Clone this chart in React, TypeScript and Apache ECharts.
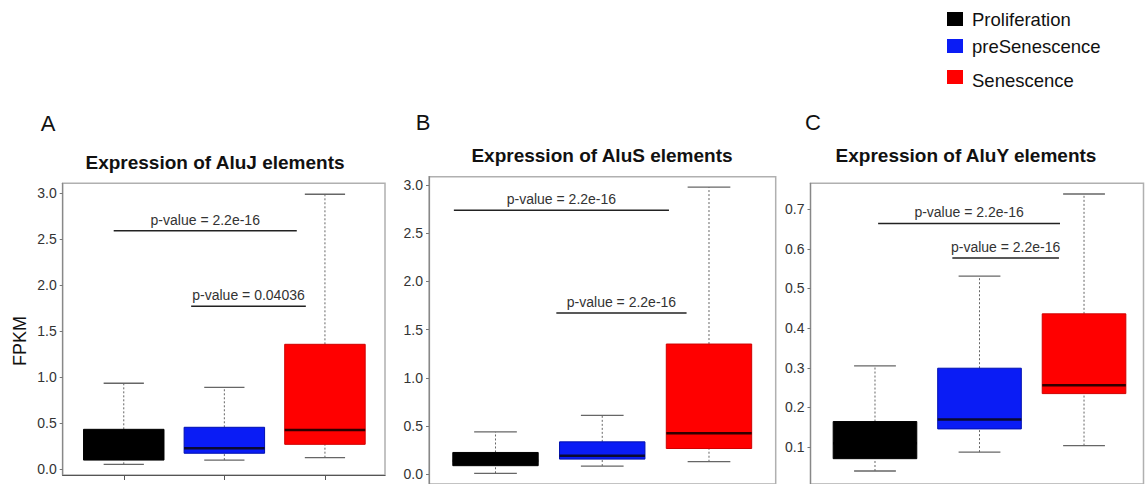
import React, { useEffect, useRef } from "react";
import * as echarts from "echarts";

// ---- data ----
const groups = ["Proliferation", "preSenescence", "Senescence"];

// [low whisker, Q1, median, Q3, high whisker] per group
const aluJStats = [
  [0.054, 0.1, 0.2, 0.434, 0.934],
  [0.1, 0.174, 0.228, 0.456, 0.89],
  [0.126, 0.271, 0.427, 1.357, 2.986],
];
const aluSStats = [
  [0.01, 0.089, 0.14, 0.226, 0.439],
  [0.085, 0.157, 0.192, 0.336, 0.61],
  [0.13, 0.267, 0.425, 1.35, 2.977],
];
const aluYStats = [
  [0.04, 0.071, 0.11, 0.1646, 0.305],
  [0.0876, 0.146, 0.17, 0.299, 0.531],
  [0.104, 0.235, 0.256, 0.436, 0.738],
];

// comparison brackets: [x from, x to, y]
const aluJBrackets = [
  [0.9, 2.72, 2.59],
  [1.67, 2.81, 1.77],
];
const aluJPValues = ["p-value = 2.2e-16", "p-value = 0.04036"];
const aluSBrackets = [
  [0.61, 2.625, 2.737],
  [1.57, 2.79, 1.672],
];
const aluSPValues = ["p-value = 2.2e-16", "p-value = 2.2e-16"];
const aluYBrackets = [
  [1.03, 2.77, 0.664],
  [1.74, 2.76, 0.577],
];
const aluYPValues = ["p-value = 2.2e-16", "p-value = 2.2e-16"];

const ticks30 = [0, 0.5, 1, 1.5, 2, 2.5, 3];
const ticks07 = [0.1, 0.2, 0.3, 0.4, 0.5, 0.6, 0.7];
const xTicks = [1, 2, 3];

const panelTitles = [
  "Expression of AluJ elements",
  "Expression of AluS elements",
  "Expression of AluY elements",
];
const panelLetters = ["A", "B", "C"];

// ---- styles ----
const FONT = "'Liberation Sans', Arial, Helvetica, sans-serif";
const fills = ["#000000", "#0a1cf5", "#ff0000"];
const borders = ["#000000", "#0010b0", "#d00000"];
const medians = ["#000000", "#0a0a30", "#300000"];

function boxSeries(stats: number[][], axisIndex: number) {
  return {
    type: "custom",
    xAxisIndex: axisIndex,
    yAxisIndex: axisIndex,
    encode: { x: 0, y: [1, 2, 3, 4, 5] },
    data: stats.map((s, i) => [i + 1, ...s]),
    renderItem: (params: any, api: any) => {
      const x = api.value(0);
      const low = api.coord([x, api.value(1)]);
      const q1 = api.coord([x, api.value(2)]);
      const med = api.coord([x, api.value(3)]);
      const q3 = api.coord([x, api.value(4)]);
      const high = api.coord([x, api.value(5)]);
      const bw = api.size([0.8, 0])[0];
      const cw = api.size([0.4, 0])[0];
      const i = params.dataIndex;
      const whisk = { stroke: "#666", lineWidth: 1, lineDash: [2, 2] };
      const cap = { stroke: "#666", lineWidth: 1.3 };
      return {
        type: "group",
        children: [
          { type: "line", shape: { x1: low[0], y1: low[1], x2: q1[0], y2: q1[1] }, style: whisk },
          { type: "line", shape: { x1: q3[0], y1: q3[1], x2: high[0], y2: high[1] }, style: whisk },
          { type: "line", shape: { x1: low[0] - cw / 2, y1: low[1], x2: low[0] + cw / 2, y2: low[1] }, style: cap },
          { type: "line", shape: { x1: high[0] - cw / 2, y1: high[1], x2: high[0] + cw / 2, y2: high[1] }, style: cap },
          {
            type: "rect",
            shape: { x: q3[0] - bw / 2, y: q3[1], width: bw, height: q1[1] - q3[1] },
            style: { fill: fills[i], stroke: borders[i], lineWidth: 1 },
          },
          {
            type: "line",
            shape: { x1: med[0] - bw / 2, y1: med[1], x2: med[0] + bw / 2, y2: med[1] },
            style: { stroke: medians[i], lineWidth: 2.5 },
          },
        ],
      };
    },
  };
}

function bracketSeries(brackets: number[][], labels: string[], axisIndex: number) {
  return {
    type: "custom",
    xAxisIndex: axisIndex,
    yAxisIndex: axisIndex,
    encode: { x: [0, 1], y: 2 },
    data: brackets,
    renderItem: (params: any, api: any) => {
      const a = api.coord([api.value(0), api.value(2)]);
      const b = api.coord([api.value(1), api.value(2)]);
      return {
        type: "group",
        children: [
          { type: "line", shape: { x1: a[0], y1: a[1], x2: b[0], y2: a[1] }, style: { stroke: "#222", lineWidth: 1.5 } },
          {
            type: "text",
            x: (a[0] + b[0]) / 2,
            y: a[1] - 4,
            style: {
              text: labels[params.dataIndex],
              fill: "#333",
              font: `14px ${FONT}`,
              align: "center",
              verticalAlign: "bottom",
              textAlign: "center",
              textVerticalAlign: "bottom",
            },
          },
        ],
      };
    },
  };
}

function xAxis(gridIndex: number, min: number, max: number, showLine: boolean) {
  return {
    type: "value",
    gridIndex,
    min,
    max,
    position: "bottom",
    axisLine: { show: showLine, onZero: false, lineStyle: { color: "#555", width: 1.2 } },
    axisTick: { show: showLine, customValues: xTicks, length: 5, lineStyle: { color: "#555" } },
    axisLabel: { show: false },
    splitLine: { show: false },
  };
}

function yAxis(gridIndex: number, min: number, max: number, ticks: number[]) {
  return {
    type: "value",
    gridIndex,
    min,
    max,
    position: "left",
    axisLine: { show: true, onZero: false, lineStyle: { color: "#888", width: 1.2 } },
    axisTick: { show: true, customValues: ticks, length: 3, lineStyle: { color: "#777" } },
    axisLabel: {
      customValues: ticks,
      formatter: (v: number) => v.toFixed(1),
      color: "#333",
      fontSize: 14,
      fontFamily: FONT,
      margin: 6,
    },
    splitLine: { show: false },
  };
}

export default function App() {
  const ref = useRef<HTMLDivElement>(null);
  useEffect(() => {
    if (!ref.current) return;
    const chart = echarts.init(ref.current, undefined, { renderer: "svg" });
    const titlePos = [
      [215, 162],
      [602, 155],
      [966, 155],
    ];
    const letterPos = [
      [48, 123],
      [423, 122],
      [813, 122],
    ];
    const legendY = [12, 39, 70];
    const legendTextY = [19, 46, 80];
    const graphics: any[] = [];
    panelTitles.forEach((t, i) => {
      graphics.push({
        type: "text",
        x: titlePos[i][0],
        y: titlePos[i][1],
        style: {
          text: t,
          font: `bold 19px ${FONT}`,
          fill: "#111",
          align: "center",
          verticalAlign: "middle",
          textAlign: "center",
          textVerticalAlign: "middle",
        },
      });
      graphics.push({
        type: "text",
        x: letterPos[i][0],
        y: letterPos[i][1],
        style: {
          text: panelLetters[i],
          font: `22px ${FONT}`,
          fill: "#111",
          align: "center",
          verticalAlign: "middle",
          textAlign: "center",
          textVerticalAlign: "middle",
        },
      });
    });
    graphics.push({
      type: "text",
      x: 20,
      y: 341,
      rotation: Math.PI / 2,
      style: {
        text: "FPKM",
        font: `18px ${FONT}`,
        fill: "#111",
        align: "center",
        verticalAlign: "middle",
        textAlign: "center",
        textVerticalAlign: "middle",
      },
    });
    groups.forEach((g, i) => {
      graphics.push({
        type: "rect",
        shape: { x: 947, y: legendY[i], width: 16, height: 14 },
        style: { fill: fills[i] },
      });
      graphics.push({
        type: "text",
        x: 972,
        y: legendTextY[i],
        style: {
          text: g,
          font: `18.5px ${FONT}`,
          fill: "#111",
          align: "left",
          verticalAlign: "middle",
          textAlign: "left",
          textVerticalAlign: "middle",
        },
      });
    });

    const gridStyle = { show: true, borderColor: "#b0b0b0", borderWidth: 1.5, backgroundColor: "transparent" };
    chart.setOption({
      animation: false,
      backgroundColor: "#ffffff",
      grid: [
        { ...gridStyle, left: 62.7, top: 183.3, width: 322.3, height: 291.7 },
        { ...gridStyle, left: 429, top: 176.7, width: 346.7, height: 310 },
        { ...gridStyle, left: 810.5, top: 183.3, width: 333, height: 305 },
      ],
      xAxis: [
        xAxis(0, 0.393, 3.597, true),
        xAxis(1, 0.377, 3.625, false),
        xAxis(2, 0.383, 3.569, false),
      ],
      yAxis: [
        yAxis(0, -0.062, 3.105, ticks30),
        yAxis(1, -0.101, 3.085, ticks30),
        yAxis(2, 0.0072, 0.765, ticks07),
      ],
      graphic: graphics,
      series: [
        boxSeries(aluJStats, 0),
        boxSeries(aluSStats, 1),
        boxSeries(aluYStats, 2),
        bracketSeries(aluJBrackets, aluJPValues, 0),
        bracketSeries(aluSBrackets, aluSPValues, 1),
        bracketSeries(aluYBrackets, aluYPValues, 2),
      ],
    });
    return () => chart.dispose();
  }, []);
  return (
    <div
      ref={ref}
      style={{ position: "absolute", left: 0, top: 0, width: 1145, height: 484, background: "#fff" }}
    />
  );
}
